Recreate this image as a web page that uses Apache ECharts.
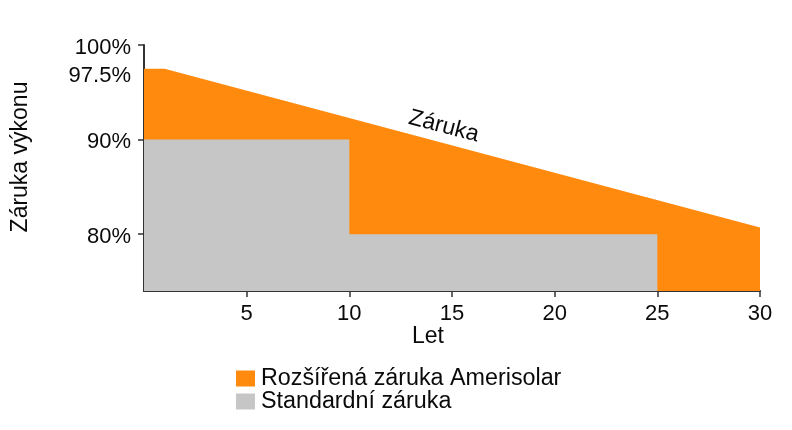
<!DOCTYPE html>
<html>
<head>
<meta charset="utf-8">
<script src="https://cdn.jsdelivr.net/npm/echarts@6/dist/echarts.min.js"></script>
<style>
  html, body { margin: 0; padding: 0; background: #ffffff; }
  #chart { width: 792px; height: 430px; }
</style>
</head>
<body>
<div id="chart"></div>
<script>
// ---- data ----
var seriesNames = ['Rozšířená záruka Amerisolar', 'Standardní záruka'];
var extendedWarranty = [[0, 97.5], [1, 97.5], [30, 80.7]];          // [year, %]
var standardWarranty = [[0, 90], [10, 90], [10, 80], [25, 80], [25, 74]];
var xTickValues = [5, 10, 15, 20, 25, 30];
var yTickValues = [80, 90, 100];
var yLabelValues = [80, 90, 97.5, 100];
var xAxisTitle = 'Let';
var yAxisTitle = 'Záruka výkonu';
var lineLabel = 'Záruka';
var lineLabelAt = [14.6, 91.4];

var FONT = 'Liberation Sans, Arial, sans-serif';
var TXT = '#0a0a0a';
var chart = echarts.init(document.getElementById('chart'), null, { renderer: 'canvas' });

var option = {
  backgroundColor: '#ffffff',
  animation: false,
  textStyle: { fontFamily: FONT },
  grid: { left: 144, right: 32, top: 45, bottom: 139 },
  legend: {
    orient: 'vertical',
    left: 231,
    top: 362,
    itemWidth: 19,
    itemHeight: 16,
    itemGap: 0,
    icon: 'rect',
    data: seriesNames,
    textStyle: { fontSize: 23.3, color: TXT, fontFamily: FONT, lineHeight: 22, padding: [0, 0, 0, 1] }
  },
  xAxis: {
    type: 'value',
    min: 0,
    max: 30,
    interval: 5,
    name: xAxisTitle,
    nameLocation: 'middle',
    nameGap: 34,
    nameMoveOverlap: false,
    nameTextStyle: { fontSize: 23, color: TXT, fontFamily: FONT, padding: [0, 48, 0, 0] },
    axisLine: { show: true, lineStyle: { color: '#333', width: 2 } },
    axisTick: { show: true, length: 6, lineStyle: { color: '#333', width: 1.5 }, customValues: xTickValues },
    axisLabel: { fontSize: 22, color: TXT, margin: 12, fontFamily: FONT, customValues: xTickValues },
    splitLine: { show: false }
  },
  yAxis: {
    type: 'value',
    min: 74,
    max: 100,
    name: yAxisTitle,
    nameLocation: 'middle',
    nameRotate: 90,
    nameGap: 112,
    nameMoveOverlap: false,
    nameTextStyle: { fontSize: 23, color: TXT, fontFamily: FONT, padding: [0, 0, 0, 22] },
    axisLine: { show: true, lineStyle: { color: '#333', width: 2 } },
    axisTick: { show: true, length: 6, lineStyle: { color: '#333', width: 1.5 }, customValues: yTickValues },
    axisLabel: {
      color: TXT, margin: 13, fontFamily: FONT,
      customValues: yLabelValues,
      formatter: function (v) { return v === 97.5 ? '{lo|97.5%}' : '{n|' + v + '%}'; },
      rich: {
        n: { fontSize: 22, color: TXT, fontFamily: FONT, padding: [5, 0, 0, 0] },
        lo: { fontSize: 22, color: TXT, fontFamily: FONT, padding: [15, 0, 0, 0] }
      }
    },
    splitLine: { show: false }
  },
  series: [
    {
      name: seriesNames[0],
      type: 'line',
      data: extendedWarranty,
      symbol: 'none',
      color: '#ff8a0e',
      lineStyle: { width: 0 },
      areaStyle: { color: '#ff8a0e', opacity: 1, origin: 'start' },
      z: 1,
      markPoint: {
        symbol: 'circle',
        symbolSize: 0,
        data: [{ coord: lineLabelAt, value: lineLabel }],
        label: {
          show: true,
          formatter: lineLabel,
          fontSize: 23,
          color: TXT,
          fontFamily: FONT,
          rotate: -14.7,
          position: 'inside'
        }
      }
    },
    {
      name: seriesNames[1],
      type: 'line',
      data: standardWarranty,
      symbol: 'none',
      color: '#c6c6c6',
      lineStyle: { width: 0 },
      areaStyle: { color: '#c6c6c6', opacity: 1, origin: 'start' },
      z: 2
    }
  ]
};
chart.setOption(option);
</script>
</body>
</html>
